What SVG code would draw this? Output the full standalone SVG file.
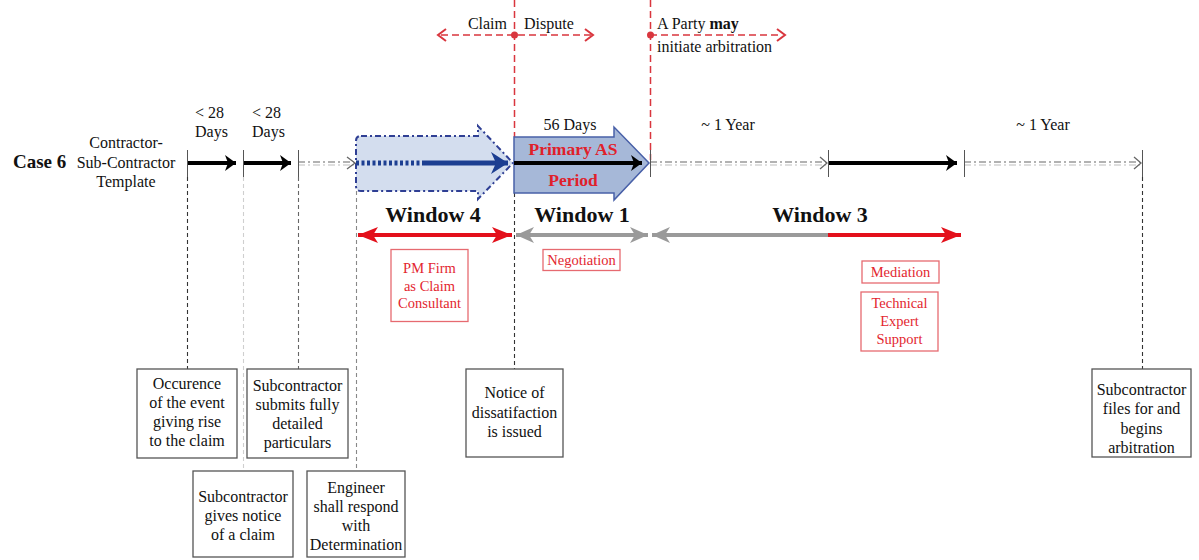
<svg xmlns="http://www.w3.org/2000/svg" width="1199" height="560" viewBox="0 0 1199 560" font-family="'Liberation Serif', 'DejaVu Serif', 'Times New Roman', serif">
  <style>
    text { font-family: "Liberation Serif", "DejaVu Serif", "Times New Roman", serif; fill: #111; }
    .lbl { font-size: 16px; }
    .box-text { font-size: 16px; text-anchor: middle; }
    .red-text { font-size: 14.5px; text-anchor: middle; fill: #e3262f; }
    .win { font-size: 22px; font-weight: bold; text-anchor: middle; }
    .box { fill: #fff; stroke: #555; stroke-width: 1.3; }
    .rbox { fill: #fff; stroke: #e66a70; stroke-width: 1.3; }
    .tick { stroke: #555; stroke-width: 1; }
    .guide { fill: none; stroke-width: 1.1; stroke-dasharray: 4 3; }
    .reddash { fill: none; stroke: #d9363e; stroke-width: 1.5; stroke-dasharray: 7 4; }
    .redhead { fill: none; stroke: #d9363e; stroke-width: 2; }
    .solid { stroke: #000; stroke-width: 4; fill: none; }
    .future { fill: none; stroke: #666; stroke-width: 1.2; stroke-dasharray: 7 3 2 3; }
    .future2 { fill: none; stroke: #bdbdbd; stroke-width: 1; stroke-dasharray: 7 3 2 3; }
    .openhead { fill: none; stroke: #666; stroke-width: 1.3; }
  </style>
  <defs>
    <marker id="headBlack" markerUnits="userSpaceOnUse" viewBox="-12 -9 13 18" refX="0" refY="0" markerWidth="13" markerHeight="18" orient="auto">
      <path d="M-11,-8 L0,0 L-11,8 L-8,0 z" fill="#000"/>
    </marker>
    <marker id="headBlue" markerUnits="userSpaceOnUse" viewBox="-18 -12 19 24" refX="0" refY="0" markerWidth="19" markerHeight="24" orient="auto">
      <path d="M-17,-11 L0,0 L-17,11 L-12,0 z" fill="#1c3e91"/>
    </marker>
    <marker id="headRed" markerUnits="userSpaceOnUse" viewBox="-21 -9 22 18" refX="0" refY="0" markerWidth="22" markerHeight="18" orient="auto-start-reverse">
      <path d="M-20,-8 L0,0 L-20,8 L-15,0 z" fill="#e3101b"/>
    </marker>
    <marker id="headGray" markerUnits="userSpaceOnUse" viewBox="-19 -9 20 18" refX="0" refY="0" markerWidth="20" markerHeight="18" orient="auto-start-reverse">
      <path d="M-18,-8 L0,0 L-18,8 L-13,0 z" fill="#9a9a9a"/>
    </marker>
  </defs>

  <!-- row title -->
  <g id="case-title">
    <text x="13" y="168" style="font-size:19px;font-weight:bold">Case 6</text>
    <text class="box-text" x="126" y="148">Contractor-</text>
    <text class="box-text" x="126" y="168">Sub-Contractor</text>
    <text class="box-text" x="126" y="187">Template</text>
  </g>

  <!-- duration labels above the timeline -->
  <g id="durations">
    <text class="lbl" x="195" y="118">&lt; 28</text>
    <text class="lbl" x="195" y="137">Days</text>
    <text class="lbl" x="252" y="118">&lt; 28</text>
    <text class="lbl" x="252" y="137">Days</text>
    <text class="lbl" x="570" y="130" text-anchor="middle">56 Days</text>
    <text class="lbl" x="728" y="130" text-anchor="middle">~ 1 Year</text>
    <text class="lbl" x="1043" y="130" text-anchor="middle">~ 1 Year</text>
  </g>

  <!-- claim / dispute markers -->
  <g id="phase-markers">
    <line class="reddash" x1="514.5" y1="0" x2="514.5" y2="137"/>
    <line class="reddash" x1="650.5" y1="0" x2="650.5" y2="160"/>
    <line class="reddash" x1="441" y1="35" x2="591" y2="35"/>
    <path class="redhead" d="M446,29 L438,35 L446,41"/>
    <path class="redhead" d="M585,29 L593,35 L585,41"/>
    <circle cx="514.5" cy="35" r="3.5" fill="#d9363e"/>
    <line class="reddash" x1="650" y1="35" x2="782" y2="35"/>
    <path class="redhead" d="M777,29 L785,35 L777,41"/>
    <circle cx="650.5" cy="35" r="3.5" fill="#d9363e"/>
    <text class="lbl" x="507" y="29" text-anchor="end">Claim</text>
    <text class="lbl" x="524" y="29">Dispute</text>
    <text class="lbl" x="657" y="29">A Party <tspan font-weight="bold">may</tspan></text>
    <text class="lbl" x="657" y="52">initiate arbitration</text>
  </g>

  <!-- vertical guides from the timeline down to the event boxes -->
  <g id="guides">
    <line class="guide" stroke="#333" x1="187.5" y1="177" x2="187.5" y2="369"/>
    <line class="guide" stroke="#cfcfcf" x1="243.5" y1="177" x2="243.5" y2="471"/>
    <line class="guide" stroke="#666" x1="298.5" y1="177" x2="298.5" y2="369"/>
    <line class="guide" stroke="#888" x1="356.5" y1="191" x2="356.5" y2="471"/>
    <line class="guide" stroke="#333" x1="514.5" y1="193" x2="514.5" y2="369"/>
    <line class="guide" stroke="#333" x1="1142.5" y1="177" x2="1142.5" y2="369"/>
  </g>

  <!-- window 4 block arrow -->
  <g id="window4-arrow">
    <path d="M361,136 L478,136 L478,126 L513,163 L478,199 L478,191 L361,191 Q356,191 356,186 L356,141 Q356,136 361,136 z" fill="#d3ddee" stroke="#2f3f94" stroke-width="2" stroke-dasharray="6 3 2 3"/>
    <line x1="356" y1="163" x2="422" y2="163" stroke="#1c3e91" stroke-width="5" stroke-dasharray="3 2.5"/>
    <line x1="422" y1="163" x2="508" y2="163" stroke="#1c3e91" stroke-width="5" marker-end="url(#headBlue)"/>
  </g>

  <!-- primary AS period block arrow -->
  <g id="primary-as">
    <path d="M514,137 L614,137 L614,127 L649,163 L614,200 L614,193 L514,193 z" fill="#a6b8d8" stroke="#4860a8" stroke-width="1.5"/>
    <line class="solid" x1="514" y1="163" x2="642" y2="163" marker-end="url(#headBlack)"/>
    <text x="573" y="155" text-anchor="middle" style="font-size:17.5px;font-weight:bold;fill:#e0202a">Primary AS</text>
    <text x="573" y="186" text-anchor="middle" style="font-size:17.5px;font-weight:bold;fill:#e0202a">Period</text>
  </g>

  <!-- main timeline -->
  <g id="connectors">
    <line class="solid" x1="187" y1="163" x2="236" y2="163" marker-end="url(#headBlack)"/>
    <line class="solid" x1="243" y1="163" x2="291" y2="163" marker-end="url(#headBlack)"/>
    <line class="future" x1="298" y1="162" x2="354" y2="162"/>
    <line class="future2" x1="298" y1="165" x2="354" y2="165"/>
    <path class="openhead" d="M347,157 L355,163 L347,169"/>
    <line class="future" x1="650" y1="162" x2="826" y2="162"/>
    <line class="future2" x1="650" y1="165" x2="826" y2="165"/>
    <path class="openhead" d="M820,157 L827,163 L820,169"/>
    <line class="solid" x1="828" y1="163" x2="957" y2="163" marker-end="url(#headBlack)"/>
    <line class="future" x1="964" y1="162" x2="1140" y2="162"/>
    <line class="future2" x1="964" y1="165" x2="1140" y2="165"/>
    <path class="openhead" d="M1134,157 L1141,163 L1134,169"/>
    <line class="tick" x1="187.5" y1="150" x2="187.5" y2="177"/>
    <line class="tick" x1="243.5" y1="150" x2="243.5" y2="177"/>
    <line class="tick" x1="298.5" y1="150" x2="298.5" y2="177"/>
    <line class="tick" x1="650.5" y1="150" x2="650.5" y2="177"/>
    <line class="tick" x1="828.5" y1="150" x2="828.5" y2="177"/>
    <line class="tick" x1="964.5" y1="150" x2="964.5" y2="177"/>
    <line class="tick" x1="1142.5" y1="150" x2="1142.5" y2="177"/>

    <!-- window spans -->
    <line x1="358" y1="235" x2="512" y2="235" stroke="#e3101b" stroke-width="4" marker-start="url(#headRed)" marker-end="url(#headRed)"/>
    <line x1="516" y1="235" x2="648" y2="235" stroke="#9a9a9a" stroke-width="4" marker-start="url(#headGray)" marker-end="url(#headGray)"/>
    <line x1="652" y1="235" x2="828" y2="235" stroke="#9a9a9a" stroke-width="4" marker-start="url(#headGray)"/>
    <line x1="828" y1="235" x2="961" y2="235" stroke="#e3101b" stroke-width="4" marker-end="url(#headRed)"/>
  </g>

  <!-- window titles -->
  <g id="window-titles">
    <text class="win" x="433" y="222">Window 4</text>
    <text class="win" x="582" y="222">Window 1</text>
    <text class="win" x="820" y="222">Window 3</text>
  </g>

  <!-- support activities -->
  <g id="pm-firm">
    <rect class="rbox" x="391" y="249.5" width="77" height="72"/>
    <text class="red-text" x="429.5" y="273">PM Firm</text>
    <text class="red-text" x="429.5" y="291">as Claim</text>
    <text class="red-text" x="429.5" y="308">Consultant</text>
  </g>
  <g id="negotiation">
    <rect class="rbox" x="543" y="249.5" width="77" height="21"/>
    <text class="red-text" x="581.5" y="265">Negotiation</text>
  </g>
  <g id="mediation">
    <rect class="rbox" x="862" y="261" width="77" height="22"/>
    <text class="red-text" x="900.5" y="277">Mediation</text>
  </g>
  <g id="technical-expert">
    <rect class="rbox" x="861" y="292" width="77" height="59"/>
    <text class="red-text" x="899.5" y="308">Technical</text>
    <text class="red-text" x="899.5" y="326">Expert</text>
    <text class="red-text" x="899.5" y="344">Support</text>
  </g>

  <!-- event boxes -->
  <g id="event-occurrence">
    <rect class="box" x="137" y="369" width="100" height="89"/>
    <text class="box-text" x="187" y="389">Occurence</text>
    <text class="box-text" x="187" y="408">of the event</text>
    <text class="box-text" x="187" y="427">giving rise</text>
    <text class="box-text" x="187" y="446">to the claim</text>
  </g>
  <g id="event-particulars">
    <rect class="box" x="247" y="369" width="101" height="89"/>
    <text class="box-text" x="297.5" y="391">Subcontractor</text>
    <text class="box-text" x="297.5" y="410">submits fully</text>
    <text class="box-text" x="297.5" y="429">detailed</text>
    <text class="box-text" x="297.5" y="448">particulars</text>
  </g>
  <g id="event-notice">
    <rect class="box" x="193" y="471" width="100" height="86"/>
    <text class="box-text" x="243" y="502">Subcontractor</text>
    <text class="box-text" x="243" y="521">gives notice</text>
    <text class="box-text" x="243" y="540">of a claim</text>
  </g>
  <g id="event-determination">
    <rect class="box" x="307" y="471" width="98" height="86"/>
    <text class="box-text" x="356" y="493">Engineer</text>
    <text class="box-text" x="356" y="512">shall respond</text>
    <text class="box-text" x="356" y="531">with</text>
    <text class="box-text" x="356" y="550">Determination</text>
  </g>
  <g id="event-dissatisfaction">
    <rect class="box" x="466" y="369" width="97" height="88"/>
    <text class="box-text" x="514.5" y="398">Notice of</text>
    <text class="box-text" x="514.5" y="418">dissatifaction</text>
    <text class="box-text" x="514.5" y="437">is issued</text>
  </g>
  <g id="event-arbitration">
    <rect class="box" x="1092" y="369" width="99" height="88"/>
    <text class="box-text" x="1141.5" y="395">Subcontractor</text>
    <text class="box-text" x="1141.5" y="414">files for and</text>
    <text class="box-text" x="1141.5" y="434">begins</text>
    <text class="box-text" x="1141.5" y="453">arbitration</text>
  </g>
</svg>
